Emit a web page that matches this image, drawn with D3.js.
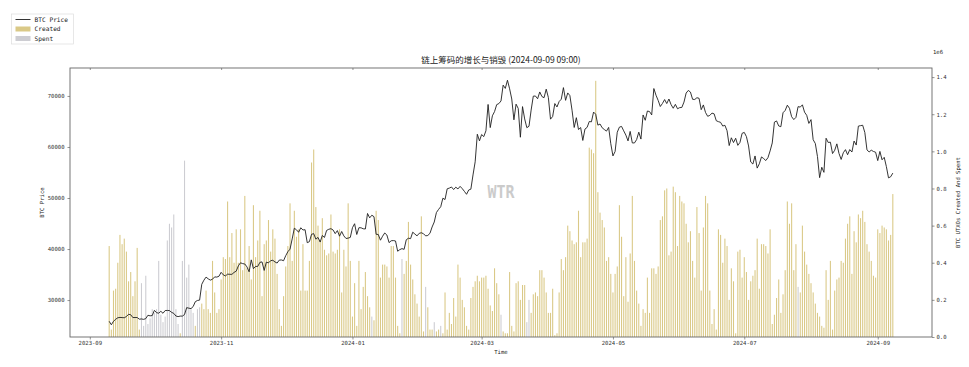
<!DOCTYPE html>
<html>
<head>
<meta charset="utf-8">
<script src="https://cdn.jsdelivr.net/npm/d3@7"></script>
<style>
body { margin: 0; background: #fff; }
text { font-family: "DejaVu Sans Mono", "Liberation Mono", monospace; fill: #222; }
.title { font-family: "Noto Sans CJK SC", sans-serif; }
</style>
</head>
<body>
<svg id="chart"></svg>
<script>
// first day of the daily series
var startDate = '2023-09-10';

// daily BTC close, 2023-09-10 .. 2024-09-08
var btcPrice = [
	// sep
	25840, 25160, 25840, 26230, 26530, 26600, 26570, 26530, 26770, 27210, 27130,
	26570, 26580, 26580, 26260, 26300, 26220, 26370, 27020, 26910, 26970,
	// oct
	27990, 27530, 27430, 27800, 27410, 27950, 27970, 27940, 27590, 27390, 26880,
	26760, 26860, 26860, 27160, 28520, 28410, 28330, 28720, 29680, 29920, 29990,
	33090, 33900, 34500, 34160, 33910, 34090, 34540, 34500, 34670,
	// nov
	35440, 34940, 34730, 35080, 35050, 35040, 35420, 35660, 36700, 37310, 37140,
	37070, 36500, 35540, 37880, 36150, 36600, 36590, 37390, 37480, 35810, 37430,
	37290, 37720, 37800, 37480, 37250, 37830, 37860, 37710,
	// dec
	38690, 39480, 39980, 41980, 44080, 43770, 43290, 44170, 43730, 43790, 41240,
	41450, 42890, 43020, 41940, 42280, 41370, 42660, 42270, 43650, 43870, 43990,
	43740, 43020, 43610, 42520, 43440, 42580, 42070, 42140, 42280,
	// jan
	44180, 44960, 42850, 44180, 44160, 43970, 43930, 46970, 46110, 46630, 46340,
	42890, 42850, 41730, 42510, 43150, 42740, 41260, 41620, 41660, 41580, 39570,
	39890, 40080, 39940, 41820, 42120, 42040, 43300, 42940, 42580,
	// feb
	43080, 43190, 43000, 42580, 42660, 43080, 44320, 45300, 47150, 47770, 48290,
	49960, 49700, 51800, 51940, 52160, 51660, 52120, 51780, 52280, 51840, 51300,
	50730, 51570, 51730, 54520, 57090, 62500, 61200,
	// mar
	62440, 62030, 63170, 68330, 63800, 66110, 66930, 68300, 68500, 69020, 72120,
	71480, 73080, 71400, 69400, 65320, 68390, 67550, 61910, 67910, 65490, 63780,
	64060, 67230, 69960, 69990, 69450, 70780, 69890, 69650, 71330,
	// apr
	69700, 65450, 65980, 68510, 67840, 68900, 69360, 71630, 69140, 70590, 70060,
	67200, 63820, 65740, 63420, 63810, 61280, 63510, 63840, 64990, 64930, 66840,
	66410, 64280, 64500, 63760, 63420, 63110, 63840, 60640,
	// may
	58250, 59120, 62890, 63890, 64030, 63160, 62330, 61190, 63050, 60790, 60790,
	61450, 62900, 61550, 66270, 65230, 67050, 66940, 66280, 71450, 70140, 69120,
	67930, 68530, 69290, 68510, 69400, 68300, 67590, 68350, 67490,
	// jun
	67710, 67750, 68800, 70570, 71080, 70760, 69340, 69310, 69650, 69540, 67310,
	68240, 66760, 66010, 66190, 66640, 66490, 65140, 64960, 64830, 64100, 64250,
	63180, 60280, 61800, 60870, 61710, 60320, 60890, 62680,
	// jul
	62850, 62030, 60200, 57060, 56660, 58240, 55860, 56710, 58050, 57730, 57340,
	57900, 59230, 60790, 64870, 65100, 64120, 63970, 66710, 67160, 68190, 67580,
	65930, 65370, 65800, 67910, 67810, 68260, 66820, 66200, 64620,
	// aug
	65360, 61420, 60680, 58120, 53990, 56030, 55030, 61710, 60880, 60940, 58710,
	59350, 60610, 58740, 57560, 58870, 59480, 58480, 59490, 59010, 61160, 60380,
	64090, 64180, 64260, 62830, 59420, 59030, 59370, 59120, 58970,
	// sep
	57330, 59130, 57490, 57970, 56160, 53950, 54160, 54880
];

// daily net UTXO change in millions: > 0 drawn as Created, < 0 drawn as Spent
var netUtxo = [
	0.49, 0.04, 0.25, 0.26, 0.40, 0.55, 0.50, 0.53, 0.46, 0.30,
	0.35, 0.22, 0.30, 0.48, 0.04, -0.29, -0.06, -0.33, -0.07, -0.10,
	-0.15, -0.13, -0.15, -0.41, -0.12, -0.08, -0.11, -0.52, -0.61, -0.59,
	-0.66, -0.15, -0.07, 0.02, -0.41, -0.95, -0.32, -0.39, -0.15, -0.13,
	0.06, -0.15, -0.16, 0.18, 0.15, 0.25, 0.15, 0.13, 0.41, 0.24,
	0.13, 0.15, 0.31, 0.43, 0.42, 0.73, 0.43, 0.56, 0.40, 0.58,
	0.40, 0.58, 0.36, 0.76, 0.37, 0.49, 0.31, 0.71, 0.43, 0.52,
	0.68, 0.22, 0.50, 0.52, 0.63, 0.46, 0.58, 0.53, 0.34, 0.15,
	0.06, 0.22, 0.38, 0.49, 0.72, 0.41, 0.68, 0.54, 0.58, 0.25,
	0.50, 0.25, 0.25, 0.41, 0.94, 1.01, 0.70, 0.60, 0.52, 0.64,
	0.47, 0.44, 0.45, 0.66, 0.46, 0.45, 0.47, 0.58, 0.24, 0.47,
	0.38, 0.72, 0.41, 0.11, 0.29, 0.06, 0.41, 0.15, 0.27, 0.35,
	0.22, 0.16, -0.11, 0.09, 0.68, 0.63, 0.32, 0.39, 0.39, 0.38,
	0.32, 0.49, 0.49, 0.32, 0.06, 0.02, -0.42, 0.34, 0.41, 0.62,
	0.39, 0.31, 0.23, 0.18, 0.11, 0.65, 0.03, -0.27, 0.16, 0.04,
	0.04, -0.08, 0.03, 0.04, -0.06, 0.02, 0.24, 0.04, 0.13, 0.07,
	0.21, 0.11, 0.39, 0.32, 0.20, 0.16, 0.06, 0.04, 0.21, 0.27,
	0.30, 0.33, 0.30, 0.32, 0.32, 0.33, 0.26, 0.17, 0.14, 0.37,
	0.29, 0.23, -0.12, 0.03, 0.02, 0.02, 0.35, 0.06, 0.03, 0.29,
	0.30, 0.20, 0.28, 0.28, -0.08, -0.20, 0.13, 0.23, 0.24, 0.22,
	0.36, 0.36, 0.32, 0.24, 0.13, 0.13, 0.26, 0.01, 0.02, 0.24,
	0.42, 0.36, 0.43, 0.60, 0.57, 0.52, 0.50, 0.51, 0.68, 0.43,
	0.51, 0.51, 0.53, 1.02, 1.01, 0.99, 1.38, 0.78, 0.67, 0.63,
	0.59, 0.41, 0.43, 0.34, 0.24, 0.34, 0.38, 0.71, 0.54, 0.22,
	0.43, 0.19, 0.45, 0.76, 0.41, 0.25, 0.18, 0.06, 0.15, 0.13,
	0.32, 0.13, 0.37, 0.37, 0.34, 0.38, 0.63, 0.65, 0.79, 0.80,
	0.44, 0.46, 0.81, 0.78, 0.49, 0.76, 0.73, 0.72, 0.61, 0.51,
	0.57, 0.41, 0.32, 0.70, 0.56, 0.25, 0.59, 0.76, 0.72, 0.25,
	0.07, 0.15, 0.04, 0.58, 0.55, 0.40, 0.53, 0.49, 0.20, 0.37,
	0.30, 0.02, 0.46, 0.47, 0.32, 0.43, 0.35, 0.20, 0.30, 0.33,
	0.36, 0.53, 0.26, 0.50, 0.50, 0.49, 0.45, 0.58, 0.07, 0.12,
	0.21, 0.31, 0.13, 0.23, 0.36, 0.73, 0.61, 0.72, 0.36, 0.50,
	-0.27, 0.24, 0.60, 0.46, 0.39, 0.34, 0.29, 0.24, 0.18, 0.13,
	0.11, 0.06, 0.05, 0.36, 0.20, 0.41, 0.04, 0.25, 0.31, 0.32,
	0.41, 0.40, 0.53, 0.61, 0.65, 0.34, 0.57, 0.51, 0.66, 0.64,
	0.68, 0.62, 0.50, 0.46, 0.41, 0.33, 0.32, 0.58, 0.56, 0.60,
	0.59, 0.58, 0.52, 0.55, 0.77
];

// axis ticks
var xTickDates = ['2023-09-01', '2023-11-01', '2024-01-01', '2024-03-01', '2024-05-01', '2024-07-01', '2024-09-01'];
var priceTicks = [30000, 40000, 50000, 60000, 70000];
var utxoTicks = [0, 0.2, 0.4, 0.6, 0.8, 1.0, 1.2, 1.4];

// texts
var titleText = '链上筹码的增长与销毁 (2024-09-09 09:00)';
var legendLabels = ['BTC Price', 'Created', 'Spent'];

// colours
var createdColor = '#dac987';
var spentColor = '#cdcdd2';
var spineColor = '#666';

var width = 969, height = 367;
var plot = { left: 70, right: 932, top: 68, bottom: 337 };

var svg = d3.select('svg#chart').attr('width', width).attr('height', height);

// build the daily records
var parseDay = d3.utcParse('%Y-%m-%d');
var day0 = parseDay(startDate);
var data = btcPrice.map(function(p, i) {
	return { date: d3.utcDay.offset(day0, i), price: p, net: netUtxo[i] };
});

// x scale with 5% padding on each side
var first = data[0].date, last = data[data.length - 1].date;
var pad = (last - first) * 0.05;
var x = d3.scaleUtc().domain([ new Date(+first - pad), new Date(+last + pad) ])
		.range([ plot.left, plot.right ]);

// left scale (price)
var pMin = d3.min(btcPrice), pMax = d3.max(btcPrice);
var pPad = (pMax - pMin) * 0.05;
var yPrice = d3.scaleLinear().domain([ pMin - pPad, pMax + pPad ])
		.range([ plot.bottom, plot.top ]);

// right scale (utxo count, millions)
var uMax = d3.max(netUtxo, function(v) { return Math.abs(v); });
var yUtxo = d3.scaleLinear().domain([ 0, uMax * 1.05 ]).range([ plot.bottom, plot.top ]);

var dayWidth = x(d3.utcDay.offset(first, 1)) - x(first);
var barWidth = dayWidth * 0.5;

// bars
var bars = svg.append('g');
bars.selectAll('rect.created').data(data.filter(function(d) { return d.net >= 0; }))
	.enter().append('rect').attr('class', 'created')
	.attr('x', function(d) { return x(d.date) - barWidth / 2; })
	.attr('width', barWidth)
	.attr('y', function(d) { return yUtxo(d.net); })
	.attr('height', function(d) { return plot.bottom - yUtxo(d.net); })
	.style('fill', createdColor);
bars.selectAll('rect.spent').data(data.filter(function(d) { return d.net < 0; }))
	.enter().append('rect').attr('class', 'spent')
	.attr('x', function(d) { return x(d.date) - barWidth / 2; })
	.attr('width', barWidth)
	.attr('y', function(d) { return yUtxo(-d.net); })
	.attr('height', function(d) { return plot.bottom - yUtxo(-d.net); })
	.style('fill', spentColor);

// watermark
svg.append('text').attr('x', 501).attr('y', 198).attr('text-anchor', 'middle')
	.attr('textLength', 27).attr('lengthAdjust', 'spacingAndGlyphs')
	.style('font-size', '17px').style('font-weight', 'bold').style('fill', '#cbcbcb')
	.text('WTR');

// price line
var line = d3.line().x(function(d) { return x(d.date); }).y(function(d) { return yPrice(d.price); });
svg.append('path').datum(data).attr('d', line)
	.style('fill', 'none').style('stroke', '#1e1e1e').style('stroke-width', 0.9);

// frame
svg.append('rect').attr('x', plot.left).attr('y', plot.top)
	.attr('width', plot.right - plot.left).attr('height', plot.bottom - plot.top)
	.style('fill', 'none').style('stroke', spineColor).style('stroke-width', 0.9);

// axes
var fontSize = '5.6px';
var xAxis = d3.axisBottom(x).tickValues(xTickDates.map(parseDay))
	.tickFormat(d3.utcFormat('%Y-%m')).tickSize(2.5).tickPadding(2);
var gx = svg.append('g').attr('transform', 'translate(0,' + plot.bottom + ')').call(xAxis);

var gxTop = svg.append('g').attr('transform', 'translate(0,' + plot.top + ')')
	.call(d3.axisBottom(x).tickValues(xTickDates.map(parseDay)).tickFormat('').tickSize(2));

var gl = svg.append('g').attr('transform', 'translate(' + plot.left + ',0)')
	.call(d3.axisLeft(yPrice).tickValues(priceTicks).tickFormat(d3.format('d')).tickSize(2.5).tickPadding(3));

var gr = svg.append('g').attr('transform', 'translate(' + plot.right + ',0)')
	.call(d3.axisRight(yUtxo).tickValues(utxoTicks).tickFormat(d3.format('.1f')).tickSize(2.5).tickPadding(2));

[gx, gxTop, gl, gr].forEach(function(g) {
	g.select('.domain').remove();
	g.selectAll('line').style('stroke', spineColor).style('stroke-width', 0.7);
	g.selectAll('text').style('font-size', fontSize).style('fill', '#333')
		.style('font-family', '"DejaVu Sans Mono", monospace');
});

// axis labels
svg.append('text').attr('x', 501).attr('y', 354).attr('text-anchor', 'middle')
	.style('font-size', fontSize).text('Time');
svg.append('text').attr('transform', 'translate(44,' + ((plot.top + plot.bottom) / 2) + ') rotate(-90)')
	.attr('text-anchor', 'middle').style('font-size', fontSize).text('BTC Price');
svg.append('text').attr('transform', 'translate(960,' + ((plot.top + plot.bottom) / 2) + ') rotate(-90)')
	.attr('text-anchor', 'middle').style('font-size', fontSize).text('BTC UTXOs Created And Spent');
svg.append('text').attr('x', 933).attr('y', 54).style('font-size', fontSize).text('1e6');

// title
svg.append('text').attr('class', 'title').attr('x', 501).attr('y', 63)
	.attr('text-anchor', 'middle').style('font-size', '8.5px').text(titleText);

// legend
var legend = svg.append('g').attr('transform', 'translate(11.5,14)');
legend.append('rect').attr('width', 62).attr('height', 30)
	.style('fill', '#fff').style('stroke', '#ddd').style('stroke-width', 0.7);
legend.append('line').attr('x1', 4).attr('x2', 19).attr('y1', 5.5).attr('y2', 5.5)
	.style('stroke', '#1e1e1e').style('stroke-width', 0.9);
legend.append('rect').attr('x', 4).attr('y', 12.5).attr('width', 15).attr('height', 5).style('fill', createdColor);
legend.append('rect').attr('x', 4).attr('y', 22).attr('width', 15).attr('height', 5).style('fill', spentColor);
legend.selectAll('text.leg').data(legendLabels).enter().append('text').attr('class', 'leg')
	.attr('x', 23).attr('y', function(d, i) { return 7.5 + i * 9.5; })
	.style('font-size', '6.2px').text(function(d) { return d; });
</script>
</body>
</html>
